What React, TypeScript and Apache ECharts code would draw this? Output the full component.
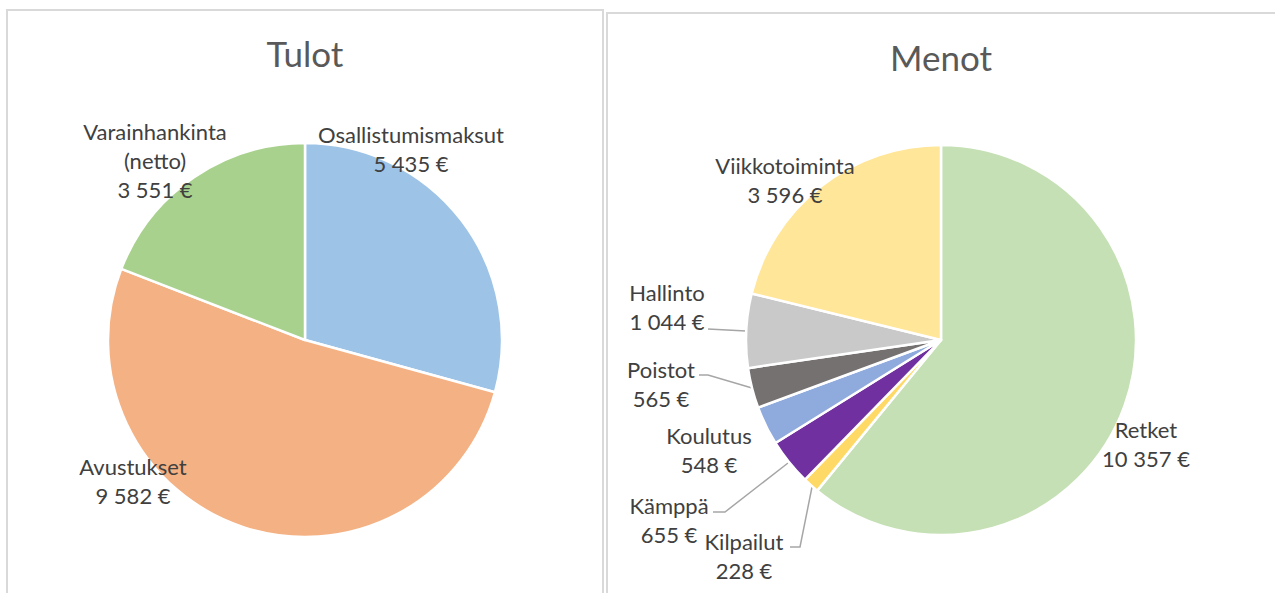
import React, { useEffect, useRef } from "react";
import * as echarts from "echarts";

// ---- data ----
const incomeTitle = "Tulot";
const incomeNames = ["Osallistumismaksut", "Avustukset", "Varainhankinta (netto)"];
const incomeValues = [5435, 9582, 3551];

const expenseTitle = "Menot";
const expenseNames = ["Retket", "Kilpailut", "Kämppä", "Koulutus", "Poistot", "Hallinto", "Viikkotoiminta"];
const expenseValues = [10357, 228, 655, 548, 565, 1044, 3596];

// ---- styles ----
const incomeColors = ["#9dc3e6", "#f4b183", "#a9d18e"];
const expenseColors = ["#c5e0b4", "#ffd966", "#7030a0", "#8faadc", "#767171", "#c9c9c9", "#ffe699"];

// label block centres (layout only)
const incomeLabelPos: number[][] = [[411, 149], [133, 481], [155, 160]];
const expenseLabelPos: number[][] = [
  [1146, 444], [744, 556], [669, 520], [709, 450], [661, 384], [667, 307], [785, 180],
];
// guide lines (layout only), null = no line
const expenseGuides: (number[][] | null)[] = [
  null,
  [[812, 487], [800, 547], [790, 547]],
  [[788, 463], [725, 512], [713, 512]],
  null,
  [[752, 388], [708, 375], [699, 375]],
  [[746, 331], [727, 330], [708, 329]],
  null,
];

const FONT = "Lato, 'Open Sans', sans-serif";

function fmt(v: number): string {
  return String(v).replace(/\B(?=(\d{3})+(?!\d))/g, " ") + " €";
}

export default function App() {
  const ref = useRef<HTMLDivElement>(null);

  useEffect(() => {
    document.body.style.margin = "0";
    const chart = echarts.init(ref.current!, undefined, { renderer: "svg" });

    const labelStyle = {
      show: true,
      color: "#404040",
      fontFamily: FONT,
      fontSize: 22,
      lineHeight: 29,
      align: "center",
      overflow: "none",
      formatter: (p: any) => p.name.replace(" (", "\n(") + "\n" + fmt(p.value),
    };

    const incomeData = incomeNames.map((n, i) => ({
      name: n,
      value: incomeValues[i],
      itemStyle: { color: incomeColors[i] },
      labelLine: { show: false },
    }));
    const expenseData = expenseNames.map((n, i) => ({
      name: n,
      value: expenseValues[i],
      itemStyle: { color: expenseColors[i] },
      labelLine: { show: expenseGuides[i] !== null },
    }));

    const titleText = { color: "#595959", fontFamily: FONT, fontSize: 35, fontWeight: "normal", lineHeight: 40 };

    chart.setOption({
      animation: false,
      title: [
        { text: incomeTitle, left: 305, top: 33, textAlign: "center", padding: 0, textStyle: titleText },
        { text: expenseTitle, left: 941, top: 37, textAlign: "center", padding: 0, textStyle: titleText },
      ],
      graphic: [
        {
          type: "rect",
          shape: { x: 7, y: 10, width: 596, height: 620 },
          style: { fill: "none", stroke: "#d9d9d9", lineWidth: 2 },
          silent: true,
        },
        {
          type: "rect",
          shape: { x: 607, y: 13, width: 720, height: 620 },
          style: { fill: "none", stroke: "#d9d9d9", lineWidth: 2 },
          silent: true,
        },
      ],
      series: [
        {
          type: "pie",
          center: [305, 340],
          radius: 197,
          startAngle: 90,
          clockwise: true,
          silent: true,
          emphasis: { disabled: true },
          itemStyle: { borderColor: "#ffffff", borderWidth: 2.5 },
          label: labelStyle,
          labelLine: { show: false },
          labelLayout: (p: any) => {
            const pos = incomeLabelPos[p.dataIndex];
            return { x: pos[0], y: pos[1], align: "center", verticalAlign: "middle" };
          },
          data: incomeData,
        },
        {
          type: "pie",
          center: [941, 340],
          radius: 195,
          startAngle: 90,
          clockwise: true,
          silent: true,
          emphasis: { disabled: true },
          itemStyle: { borderColor: "#ffffff", borderWidth: 2.5 },
          label: labelStyle,
          labelLine: { show: true, lineStyle: { color: "#a6a6a6", width: 1.5 } },
          labelLayout: (p: any) => {
            const pos = expenseLabelPos[p.dataIndex];
            const g = expenseGuides[p.dataIndex];
            const o: any = { x: pos[0], y: pos[1], align: "center", verticalAlign: "middle" };
            if (g) o.labelLinePoints = g;
            return o;
          },
          data: expenseData,
        },
      ],
    });

    return () => chart.dispose();
  }, []);

  return <div ref={ref} style={{ width: 1275, height: 593, overflow: "hidden" }} />;
}
